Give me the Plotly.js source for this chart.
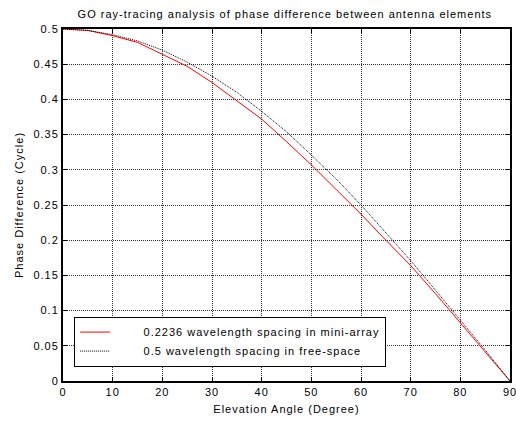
<!DOCTYPE html>
<html>
<head>
<meta charset="utf-8">
<script src="https://cdn.plot.ly/plotly-3.0.1.min.js"></script>
<style>
html,body{margin:0;padding:0;background:#fff;}
#chart{width:516px;height:421px;}
svg text{letter-spacing:1px;}
</style>
</head>
<body>
<div id="chart"></div>
<script>
const angles = [0, 5, 10, 15, 20, 25, 30, 35, 40, 45, 50, 55, 60, 65, 70, 75, 80, 85, 90];
const miniArray = [0.5, 0.498, 0.4905, 0.481, 0.464, 0.447, 0.424, 0.398, 0.372, 0.340, 0.307, 0.272, 0.237, 0.200, 0.164, 0.124, 0.083, 0.042, 0];
const freeSpace = [0.5, 0.498, 0.492, 0.483, 0.470, 0.453, 0.433, 0.410, 0.383, 0.354, 0.321, 0.287, 0.250, 0.211, 0.171, 0.129, 0.087, 0.044, 0];
const seriesNames = ['0.2236 wavelength spacing in mini-array', '0.5 wavelength spacing in free-space'];
const xTicks = [0, 10, 20, 30, 40, 50, 60, 70, 80, 90];
const yTicks = [0, 0.05, 0.1, 0.15, 0.2, 0.25, 0.3, 0.35, 0.4, 0.45, 0.5];

const pad = '\u00a0\u00a0\u00a0\u00a0\u00a0\u00a0\u00a0';
const traces = [
  {x: angles, y: miniArray, type: 'scatter', mode: 'lines', name: pad + seriesNames[0],
   line: {color: '#ff0000', width: 1}},
  {x: angles, y: freeSpace, type: 'scatter', mode: 'lines', name: pad + seriesNames[1],
   line: {color: '#000000', width: 1, dash: '1px,1px'}}
];
const axisCommon = {
  showline: true, mirror: 'ticks', linecolor: '#000', linewidth: 2,
  ticks: 'inside', ticklen: 4, tickcolor: '#000',
  showgrid: true, gridcolor: '#333', griddash: '1px,1px', gridwidth: 1,
  zeroline: false, ticklabeloverflow: 'allow',
  tickfont: {family: 'Liberation Sans, Arial, sans-serif', size: 11, color: '#000'}
};
const layout = {
  width: 516, height: 421,
  margin: {l: 63, r: 6, t: 29, b: 40},
  paper_bgcolor: '#fff', plot_bgcolor: '#fff',
  font: {family: 'Liberation Sans, Arial, sans-serif', size: 11, color: '#000'},
  title: {text: 'GO ray-tracing analysis of phase difference between antenna elements',
          font: {size: 11, color: '#000'}, x: 0.552, xanchor: 'center', y: 0.967, yanchor: 'middle'},
  xaxis: Object.assign({}, axisCommon, {range: [0, 90], tickvals: xTicks, ticktext: xTicks.map(String),
          title: {text: 'Elevation Angle (Degree)', font: {size: 11}, standoff: 8}}),
  yaxis: Object.assign({}, axisCommon, {range: [0, 0.5], tickvals: yTicks, ticktext: yTicks.map(String),
          title: {text: 'Phase Difference (Cycle)', font: {size: 11}, standoff: 8}}),
  showlegend: true,
  legend: {x: 0.025, y: 0.183, xanchor: 'left', yanchor: 'top', bgcolor: '#fff',
           bordercolor: '#000', borderwidth: 1, font: {size: 11, color: '#000'},
           tracegroupgap: 0, itemwidth: 30}
};
Plotly.newPlot('chart', traces, layout, {staticPlot: true, displayModeBar: false});
</script>
</body>
</html>
